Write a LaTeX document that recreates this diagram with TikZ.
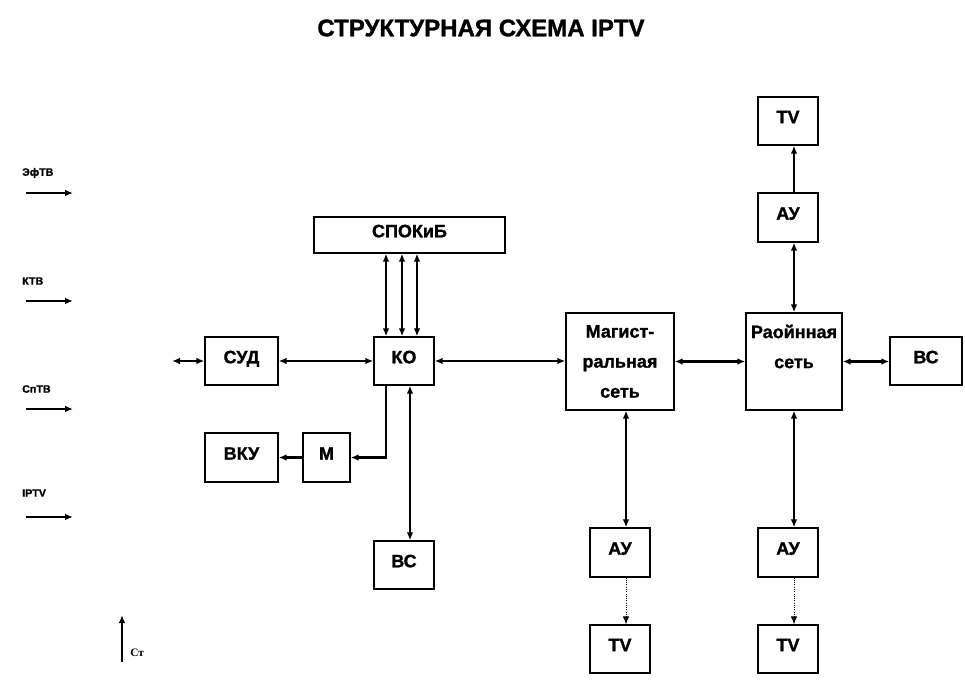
\documentclass[tikz,border=0pt]{standalone}
\usepackage{fontspec}
\setmainfont{Liberation Sans}[BoldFeatures={FakeBold=1.2}]
\newfontfamily\serifbf{Liberation Serif}
\usetikzlibrary{arrows.meta,calc}
\tikzset{
  >={Latex[length=6pt,width=5pt]},
  box/.style={draw=black, line width=1pt, fill=white, align=center, inner sep=0pt,
    font=\bfseries\fontsize{13.5pt}{22.5pt}\selectfont},
  sz/.style 2 args={minimum width=#1*0.75pt, minimum height=#2*0.75pt},
  one/.style={text depth=0.6em},
  conn/.style={line width=1.8pt},
  thinconn/.style={line width=0.7pt, densely dotted},
  small/.style={anchor=west, inner sep=0pt, font=\bfseries\fontsize{8pt}{9pt}\selectfont},
}
\begin{document}
\begin{tikzpicture}[x=0.75pt,y=-0.75pt]
\path[use as bounding box] (0,0) rectangle (965,688);

% title
\node[inner sep=0pt, font=\bfseries\fontsize{18pt}{20pt}\selectfont] (title) at (481,28) {СТРУКТУРНАЯ СХЕМА IPTV};

% boxes
\node[box,one,sz={191}{36}] (spok) at (409.5,235) {СПОКиБ};
\node[box,one,sz={73}{48}] (sud) at (241.5,361) {СУД};
\node[box,one,sz={60}{48}] (ko) at (404,361) {КО};
\node[box,one,sz={73}{49}] (vku) at (241.5,457.5) {ВКУ};
\node[box,one,sz={47}{49}] (m) at (326.5,457.5) {М};
\node[box,one,sz={60}{48}] (bc1) at (404,565) {ВС};
\node[box,sz={108}{97}] (mag) at (620,361.5) {Магист-\\ральная\\сеть};
\node[box,sz={96}{97}] (ray) at (794,361.5) {Раойнная\\сеть\\\phantom{сеть}};
\node[box,one,sz={72}{48}] (bc2) at (926,361) {ВС};
\node[box,one,sz={60}{48}] (tv1) at (788,121) {TV};
\node[box,one,sz={60}{49}] (au1) at (788,217.5) {АУ};
\node[box,one,sz={60}{49}] (au2) at (620,552.5) {АУ};
\node[box,one,sz={60}{48}] (tv2) at (620,649) {TV};
\node[box,one,sz={60}{49}] (au3) at (788,552.5) {АУ};
\node[box,one,sz={60}{48}] (tv3) at (788,649) {TV};

% left labels and inputs
\node[small] (l1) at (22,173) {ЭфТВ};
\node[small] (l2) at (22,281) {КТВ};
\node[small] (l3) at (22,389) {СпТВ};
\node[small] (l4) at (22,493) {IPTV};
\coordinate (e1s) at (26,193); \coordinate (e1e) at (73,193);
\coordinate (e2s) at (26,301); \coordinate (e2e) at (73,301);
\coordinate (e3s) at (26,409); \coordinate (e3e) at (73,409);
\coordinate (e4s) at (26,517); \coordinate (e4e) at (73,517);
\draw[conn,->] (e1s) -- (e1e);
\draw[conn,->] (e2s) -- (e2e);
\draw[conn,->] (e3s) -- (e3e);
\draw[conn,->] (e4s) -- (e4e);

% St
\coordinate (c1) at (122,662); \coordinate (c2) at (122,615);
\draw[conn,->] (c1) -- (c2);
\node[anchor=west, inner sep=0pt, font=\serifbf\bfseries\fontsize{8.5pt}{9pt}\selectfont] (st) at (130,653) {Ст};

% helper x positions
\coordinate (s0) at (172,361);
\coordinate (k1) at (386,0);
\coordinate (k2) at (402,0);
\coordinate (k3) at (417,0);
\coordinate (k4) at (410,0);
\coordinate (k5) at (626,0);
\coordinate (k6) at (794,0);

% connectors
\draw[conn,<->] (s0) -- (sud.west);
\draw[conn,<->] (sud.east) -- (ko.west);
\draw[conn,<->] (ko.north -| k1) -- (spok.south -| k1);
\draw[conn,<->] (ko.north -| k2) -- (spok.south -| k2);
\draw[conn,<->] (ko.north -| k3) -- (spok.south -| k3);
\draw[conn,->] (ko.south -| k1) |- (m.east);
\draw[conn,->] (m.west) -- (vku.east);
\draw[conn,<->] (ko.south -| k4) -- (bc1.north -| k4);
\draw[conn,<->] (ko.east) -- (mag.west |- ko.east);
\draw[conn,<->] (mag.east) -- (ray.west);
\draw[conn,<->] (ray.east) -- (bc2.west |- ray.east);
\draw[conn,<->] (ray.north -| k6) -- (au1.south -| k6);
\draw[conn,->] (au1.north -| k6) -- (tv1.south -| k6);
\draw[conn,<->] (mag.south -| k5) -- (au2.north -| k5);
\draw[conn,<->] (ray.south -| k6) -- (au3.north -| k6);
\draw[thinconn,->] (au2.south -| k5) -- (tv2.north -| k5);
\draw[thinconn,->] (au3.south -| k6) -- (tv3.north -| k6);
\end{tikzpicture}
\end{document}
